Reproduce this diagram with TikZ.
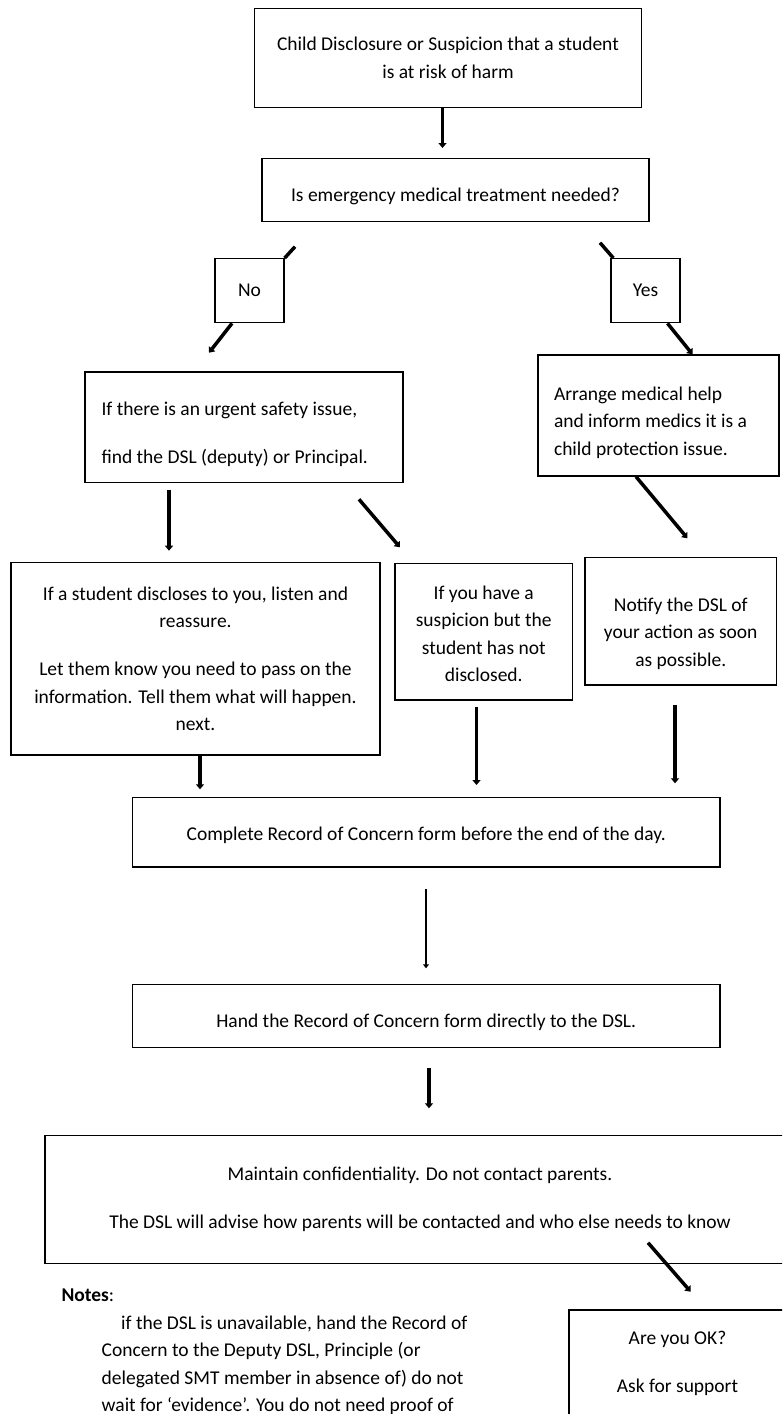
\documentclass[tikz,border=0pt]{standalone}
\usepackage{fontspec}
\setmainfont{Carlito}
\usetikzlibrary{
    positioning,   % Relative positioning
    arrows.meta    % Modern arrow tips
}
\newcommand\flowfont{\fontsize{19.5}{27.5}\selectfont}
% pushes the text of a box down a little
\newcommand\padtop[1]{\rule{0pt}{\dimexpr 0.72em+#1\relax}}

\begin{document}
\begin{tikzpicture}[x=1pt, y=-1pt,
    box/.style={draw, line width=1.3pt, inner sep=0pt, align=center, font=\flowfont},
    arr/.style={line width=3.5pt, -{Triangle[width=8pt,length=5pt]}},
    thinarr/.style={line width=2.5pt, -{Triangle[width=6pt,length=4pt]}},
    stub/.style={line width=3.5pt}]
    \path[use as bounding box, clip] (0,0) rectangle (782,1414);

    % Top of the chart
    \node[box, minimum width=386.5pt, minimum height=99pt] (start) at (448,57.8)
        {Child Disclosure or Suspicion that a student\\is at risk of harm};
    \node[box, minimum width=387pt, minimum height=63pt] (medical) at (455.5,189.8)
        {\padtop{12pt}Is emergency medical treatment needed?};
    \node[box, minimum width=69pt, minimum height=64pt] (no) at (249.5,290.7) {No};
    \node[box, minimum width=69pt, minimum height=64pt] (yes) at (645.5,290.7) {Yes};

    % No branch
    \node[box, minimum width=318pt, minimum height=110.7pt, text width=285pt, align=flush left]
        (urgent) at (244,427.3)
        {\padtop{14pt}If there is an urgent safety issue,\\[20.5pt]find the DSL (deputy) or Principal.};
    \node[box, minimum width=369pt, minimum height=192.3pt] (discloses) at (195.5,658.8)
        {If a student discloses to you, listen and\\reassure.\\[20.5pt]
         Let them know you need to pass on the\\information. Tell them what will happen.\\next.};
    \node[box, minimum width=177.5pt, minimum height=136.7pt] (suspicion) at (483.75,631.7)
        {\padtop{4pt}If you have a\\suspicion but the\\student has not\\disclosed.};

    % Yes branch
    \node[box, minimum width=241pt, minimum height=121pt, text width=209pt, align=flush left]
        (arrange) at (658.5,415.5)
        {\padtop{14pt}Arrange medical help\\and inform medics it is a\\child protection issue.};
    \node[box, minimum width=191.5pt, minimum height=127.7pt] (notify) at (680.75,621.2)
        {\padtop{24pt}Notify the DSL of\\your action as soon\\as possible.};

    % Record of Concern
    \node[box, minimum width=587.5pt, minimum height=69.3pt] (complete) at (426.25,832.3)
        {\padtop{6pt}Complete Record of Concern form before the end of the day.};
    \node[box, minimum width=587.5pt, minimum height=63pt] (hand) at (426.25,1015.8)
        {\padtop{12pt}Hand the Record of Concern form directly to the DSL.};
    \node[box, minimum width=750pt, minimum height=127.6pt] (confidential) at (420,1199.5)
        {Maintain confidentiality. Do not contact parents.\\[20.5pt]
         The DSL will advise how parents will be contacted and who else needs to know};
    \node[box, minimum width=217pt, minimum height=106pt] (support) at (677.5,1363)
        {Are you OK?\\[20.5pt]Ask for support};

    % Notes
    \node[font=\flowfont, anchor=west] (notes) at (58,1295) {\textbf{Notes}:};
    \node[font=\flowfont, align=left, anchor=north west, inner sep=0pt] (notetext) at (101.5,1315.5)
        {\hspace*{19.5pt}if the DSL is unavailable, hand the Record of\\
         Concern to the Deputy DSL, Principle (or\\
         delegated SMT member in absence of) do not\\
         wait for ‘evidence’. You do not need proof of};

    % Arrow ends
    \coordinate (t1) at (442.5,148);
    \coordinate (s2) at (295,246.7);
    \coordinate (t3) at (209,352.7);
    \coordinate (s4) at (600,242.7);
    \coordinate (s6) at (169,490);
    \coordinate (t6) at (169,550.7);
    \coordinate (s7) at (359,499.3);
    \coordinate (t7) at (400,547.3);
    \coordinate (t8) at (687.5,538.3);
    \coordinate (t9) at (200,789.3);
    \coordinate (s10) at (476.5,706.7);
    \coordinate (t10) at (476.5,785);
    \coordinate (s11) at (675,705);
    \coordinate (t11) at (675,783.3);
    \coordinate (s12) at (426,889.3);
    \coordinate (t12) at (426,968.3);
    \coordinate (s13) at (429,1068.3);
    \coordinate (t13) at (429,1108.3);
    \coordinate (s14) at (648,1242.7);
    \coordinate (t14) at (690.7,1291.7);

    % Connectors
    \draw[arr] (start.south -| t1) -- (t1);
    \draw[stub] (s2) -- (no.north east);
    \draw[arr] ([xshift=-17.5pt]no.south) -- (t3);
    \draw[stub] (s4) -- ([xshift=3pt]yes.north west);
    \draw[arr] ([xshift=22pt]yes.south) -- (arrange.north -| 692.5,0);
    \draw[arr] (s6) -- (t6);
    \draw[arr] (s7) -- (t7);
    \draw[arr] (arrange.south -| 636,0) -- (t8);
    \draw[arr] (discloses.south -| t9) -- (t9);
    \draw[arr] (s10) -- (t10);
    \draw[arr] (s11) -- (t11);
    \draw[thinarr] (s12) -- (t12);
    \draw[arr] (s13) -- (t13);
    \draw[arr] (s14) -- (t14);
\end{tikzpicture}
\end{document}
